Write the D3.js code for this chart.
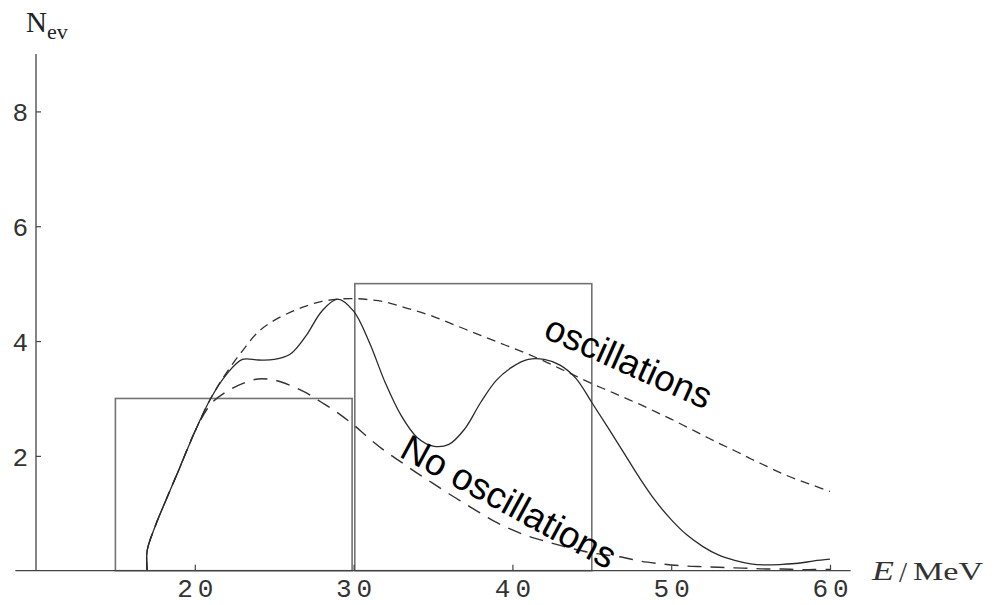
<!DOCTYPE html>
<html>
<head>
<meta charset="utf-8">
<script src="https://cdn.jsdelivr.net/npm/d3@7"></script>
<style>
  body { margin: 0; background: #fff; }
  svg { display: block; }
</style>
</head>
<body>
<svg id="chart" width="996" height="605"></svg>
<script>
// energies (MeV) the curves were read at
var energy = [17, 17, 17.5, 18, 19, 20, 21, 22, 23, 24, 25, 26, 27, 28, 29, 30, 31, 32, 33, 34, 35, 36, 37, 38,
              39, 40, 41, 42, 43, 44, 45, 46, 47, 48, 49, 50, 51, 52, 53, 54, 55, 56, 57, 58, 59, 60];

// solid curve (with the wiggles)
var solid = [0, 0.35, 0.77, 1.11, 1.76, 2.42, 3.0, 3.42, 3.68, 3.67, 3.68, 3.77, 4.09, 4.52, 4.73, 4.52, 3.97, 3.27,
             2.70, 2.32, 2.17, 2.20, 2.47, 2.93, 3.32, 3.55, 3.68, 3.68, 3.58, 3.35, 2.93, 2.50, 2.06, 1.62,
             1.22, 0.89, 0.62, 0.42, 0.27, 0.18, 0.12, 0.10, 0.11, 0.13, 0.17, 0.20];

// short dashed, upper one
var upperDashed = [0, 0.35, 0.77, 1.11, 1.76, 2.42, 3.0, 3.45, 3.83, 4.16, 4.36, 4.50, 4.61, 4.69, 4.73, 4.74, 4.72,
                   4.68, 4.60, 4.52, 4.43, 4.32, 4.21, 4.10, 3.99, 3.88, 3.77, 3.65, 3.52, 3.39, 3.26, 3.14, 3.02,
                   2.90, 2.77, 2.64, 2.50, 2.36, 2.22, 2.09, 1.95, 1.82, 1.69, 1.58, 1.48, 1.38];

// long dashed, lower one
var lowerDashed = [0, 0.35, 0.77, 1.11, 1.76, 2.42, 2.90, 3.12, 3.26, 3.34, 3.32, 3.23, 3.10, 2.93, 2.75, 2.54, 2.30,
                   2.08, 1.89, 1.70, 1.52, 1.34, 1.17, 1.00, 0.84, 0.71, 0.60, 0.52, 0.44, 0.37, 0.31, 0.27, 0.23,
                   0.17, 0.13, 0.10, 0.08, 0.07, 0.06, 0.05, 0.04, 0.03, 0.03, 0.02, 0.02, 0.02];

// histogram
var binEdges = [15, 30, 45];
var binCounts = [3, 5];

var xMajor = [20, 30, 40, 50, 60];
var yMajor = [2, 4, 6, 8];

var svg = d3.select('#chart');

var x = d3.scaleLinear().domain([10, 60]).range([36, 830]);
var y = d3.scaleLinear().domain([0, 9]).range([570.7, 54]);

// bars (small gap between neighbours, like the original)
var bars = binCounts.map(function(c, i) { return {x0: binEdges[i], x1: binEdges[i + 1], n: c}; });
svg.append('g').selectAll('rect')
  .data(bars)
  .enter().append('rect')
    .attr('x', function(d, i) { return x(d.x0) + (i > 0 ? 1.2 : 0); })
    .attr('y', function(d) { return y(d.n); })
    .attr('width', function(d, i) { return x(d.x1) - x(d.x0) - (i < bars.length - 1 ? 1.5 : 0) - (i > 0 ? 1.2 : 0); })
    .attr('height', function(d) { return y(0) - y(d.n); })
    .style('fill', 'none')
    .style('stroke', '#737373')
    .style('stroke-width', 1.6);

var line = d3.line()
  .x(function(d) { return x(d[0]); })
  .y(function(d) { return y(d[1]); })
  .curve(d3.curveCatmullRom.alpha(0.5));

function pts(vals) { return energy.map(function(e, i) { return [e, vals[i]]; }); }

svg.append('path')
  .attr('d', line(pts(upperDashed)))
  .style('fill', 'none').style('stroke', '#333').style('stroke-width', 1.3)
  .style('stroke-dasharray', '9,6');

svg.append('path')
  .attr('d', line(pts(lowerDashed)))
  .style('fill', 'none').style('stroke', '#333').style('stroke-width', 1.4)
  .style('stroke-dasharray', '14,9');

svg.append('path')
  .attr('d', line(pts(solid)))
  .style('fill', 'none').style('stroke', '#2a2a2a').style('stroke-width', 1.3);

// axes
var axisCol = '#444';
var gx = svg.append('g').attr('transform', 'translate(0,' + y(0) + ')');
gx.call(d3.axisBottom(x).tickValues(d3.range(12, 60, 2)).tickSize(-3.5).tickFormat(''));
gx.call(d3.axisBottom(x).tickValues(xMajor).tickSize(-6).tickPadding(0).tickFormat(d3.format('d')));
gx.selectAll('.domain').remove();
gx.selectAll('line').style('stroke', axisCol).style('stroke-width', 1.2);
gx.selectAll('text')
  .attr('y', 26.5).attr('dy', 0).attr('dx', 2.5)
  .style('font-family', '"Liberation Mono", monospace')
  .style('font-size', '26px')
  .style('letter-spacing', '5px')
  .style('fill', '#333');
gx.append('line')
  .attr('x1', x(8.7)).attr('x2', x(61.3))
  .style('stroke', axisCol).style('stroke-width', 1.3);

var gy = svg.append('g').attr('transform', 'translate(' + x(10) + ',0)');
gy.call(d3.axisRight(y).tickValues(d3.range(0.5, 9, 0.5).filter(function(v) { return v % 2 !== 0; })).tickSize(3).tickFormat(''));
gy.call(d3.axisRight(y).tickValues(yMajor).tickSize(5).tickFormat(d3.format('d')));
gy.selectAll('.domain').remove();
gy.selectAll('line').style('stroke', axisCol).style('stroke-width', 1.2);
gy.selectAll('text')
  .attr('x', -8).attr('dy', '0.36em')
  .style('text-anchor', 'end')
  .style('font-family', '"Liberation Mono", monospace')
  .style('font-size', '26px')
  .style('fill', '#333');
gy.append('line')
  .attr('y1', y(0)).attr('y2', y(9))
  .style('stroke', axisCol).style('stroke-width', 1.3);

// axis titles
var nev = svg.append('text')
  .attr('x', 26).attr('y', 32)
  .style('font-family', '"Liberation Serif", serif')
  .style('font-size', '29px')
  .style('fill', '#222');
nev.append('tspan').text('N');
nev.append('tspan').attr('dy', 7).style('font-size', '22px').text('ev');

var eLab = svg.append('g').style('font-family', '"Liberation Serif", serif').style('fill', '#333');
eLab.append('text').attr('x', 872).attr('y', 579.5).style('font-size', '27px').style('font-style', 'italic')
  .attr('textLength', 22).attr('lengthAdjust', 'spacingAndGlyphs').text('E');
eLab.append('text').attr('x', 899).attr('y', 582).style('font-size', '29px').text('/');
eLab.append('text').attr('x', 913).attr('y', 579.5).style('font-size', '26px')
  .attr('textLength', 70).attr('lengthAdjust', 'spacingAndGlyphs').text('MeV');

// curve labels
svg.append('text')
  .attr('transform', 'translate(542,337) rotate(24)')
  .style('font-family', '"Liberation Sans", Arial, sans-serif')
  .style('font-size', '36.5px')
  .style('fill', '#000')
  .text('oscillations');

svg.append('text')
  .attr('transform', 'translate(398,456) rotate(28.5)')
  .style('font-family', '"Liberation Sans", Arial, sans-serif')
  .style('font-size', '37px')
  .style('fill', '#000')
  .text('No oscillations');
</script>
</body>
</html>
